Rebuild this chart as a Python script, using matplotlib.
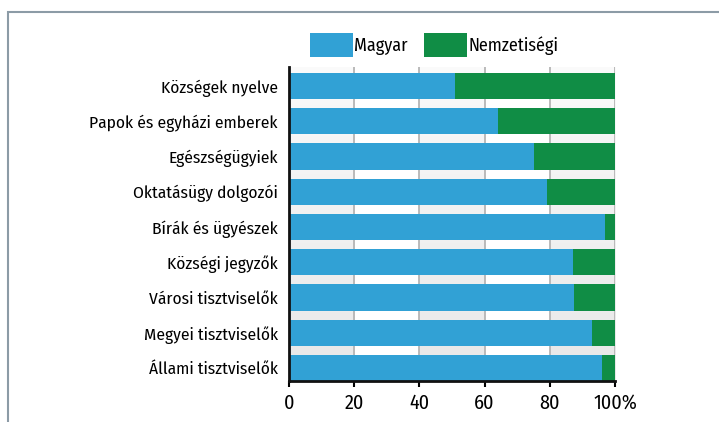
import matplotlib
matplotlib.use("Agg")
import matplotlib.pyplot as plt
from matplotlib.patches import Rectangle
from matplotlib.colors import LinearSegmentedColormap
import numpy as np

plt.rcParams['font.family'] = ['Fira Sans Condensed', 'DejaVu Sans']

categories = ["Állami tisztviselők", "Megyei tisztviselők", "Városi tisztviselők",
              "Községi jegyzők", "Bírák és ügyészek", "Oktatásügy dolgozói",
              "Egészségügyiek", "Papok és egyházi emberek", "Községek nyelve"]
magyar = [96, 93, 87.5, 87, 97, 79, 75, 64, 51]
nemzetisegi = [100 - v for v in magyar]
xticks = [0, 20, 40, 60, 80, 100]
xticklabels = ["0", "20", "40", "60", "80", "100%"]

blue = "#31a1d5"
green = "#108d45"

fig = plt.figure(figsize=(7.19, 4.22), dpi=100)
ax = fig.add_axes([289 / 719, 1 - 381 / 422, 326 / 719, 314 / 422])

# outer frame
fig.patches.append(Rectangle((8 / 719, -0.1), 1.2, 1 - 12 / 422 + 0.1,
                             transform=fig.transFigure, fill=False,
                             edgecolor="#8c9ba6", linewidth=1.5))

ypos = np.arange(len(categories))
ylo, yhi = -0.37, len(categories) - 1 + 0.54

# alternating gray column bands with a slight vertical gradient
grad = LinearSegmentedColormap.from_list("g", ["#e8e8e8", "#fafafa"])
for i in range(0, len(xticks) - 1, 2):
    ax.imshow(np.linspace(0, 1, 50)[:, None], extent=(xticks[i], xticks[i + 1], ylo, yhi),
              cmap=grad, aspect="auto", origin="lower", zorder=0)
for x in xticks[1:]:
    ax.axvline(x, color="#b5b5b5", linewidth=1.3, zorder=1)

ax.barh(ypos, magyar, height=0.74, color=blue, label="Magyar", zorder=2)
ax.barh(ypos, nemzetisegi, left=magyar, height=0.74, color=green, label="Nemzetiségi", zorder=2)

ax.set_xlim(0, 100)
ax.set_ylim(ylo, yhi)
ax.set_yticks(ypos)
ax.set_yticklabels(categories, fontsize=12.5)
ax.set_xticks(xticks)
ax.set_xticklabels(xticklabels, fontsize=14.5)
ax.tick_params(axis="y", length=0, pad=8)
ax.tick_params(axis="x", length=4, width=1.5, direction="out", pad=5)
for s in ["top", "right"]:
    ax.spines[s].set_visible(False)
for s in ["left", "bottom"]:
    ax.spines[s].set_linewidth(2)
    ax.spines[s].set_color("#111111")
ax.set_facecolor("white")

fig.legend(loc="center", bbox_to_anchor=(434 / 719, 1 - 45 / 422), ncol=2,
           frameon=False, fontsize=13, handlelength=2.4, handleheight=1.7,
           handletextpad=0.05, columnspacing=0.9, borderpad=0)

fig.savefig("out.png", dpi=100)
